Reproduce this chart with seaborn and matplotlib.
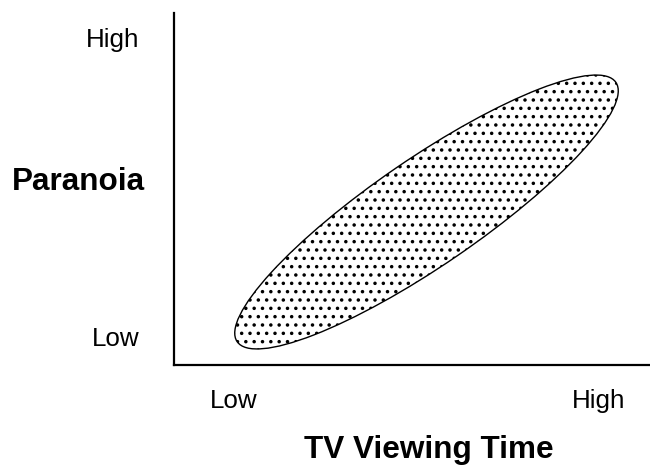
import matplotlib.pyplot as plt
from matplotlib.patches import Ellipse
import seaborn as sns

# axis ranges (arbitrary units, one unit per pixel of the original drawing)
x_range = [0, 476]
y_range = [0, 352]

# the "Low" / "High" tick positions and labels
x_ticks = [60, 425]
x_ticklabels = ["Low", "High"]
y_ticks = [28, 327]
y_ticklabels = ["Low", "High"]

# scatter cloud drawn as one tilted ellipse: centre, full width/height, angle
cloud_center = [252.5, 153.0]
cloud_size = [459.0, 107.0]
cloud_angle = 34.4

x_label = "TV Viewing Time"
y_label = "Paranoia"


def main() -> None:
    sns.set_theme(style="white")
    plt.rcParams['font.family'] = ['Liberation Sans', 'DejaVu Sans']
    plt.rcParams['hatch.linewidth'] = 1.3

    fig = plt.figure(figsize=(6.5, 4.66), dpi=100)
    ax = fig.add_axes([174 / 650, 101 / 466, 476 / 650, 352 / 466])

    cloud = Ellipse(cloud_center, cloud_size[0], cloud_size[1], angle=cloud_angle,
                    facecolor='white', edgecolor='black', linewidth=1.0,
                    hatch='..', zorder=2)
    ax.add_patch(cloud)

    ax.set_xlim(*x_range)
    ax.set_ylim(*y_range)

    sns.despine(ax=ax)
    for side in ['left', 'bottom']:
        ax.spines[side].set_color('black')
        ax.spines[side].set_linewidth(1.6)

    ax.set_xticks(x_ticks, x_ticklabels)
    ax.set_yticks(y_ticks, y_ticklabels)
    ax.tick_params(axis='both', length=0, labelsize=18.7, colors='black')
    ax.tick_params(axis='x', pad=17)
    ax.tick_params(axis='y', pad=25)

    ax.set_xlabel(x_label, fontsize=22.7, fontweight='bold', va='center',
                  color='black')
    ax.xaxis.set_label_coords(0.5357, -0.2415)
    ax.set_ylabel(y_label, fontsize=22.7, fontweight='bold', rotation=0,
                  ha='center', va='center', color='black')
    ax.yaxis.set_label_coords(-0.2017, 0.52)

    fig.savefig("out.png", dpi=100)


if __name__ == '__main__':
    main()
